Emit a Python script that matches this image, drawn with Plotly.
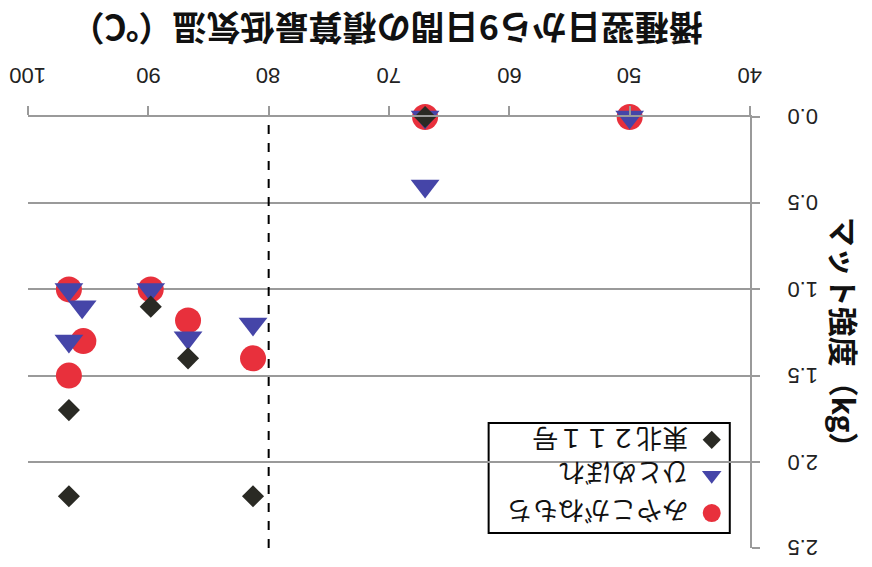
import plotly.graph_objects as go

# ---- data ----
x_miyako = [67.0, 50.0, 96.6, 95.4, 96.6, 89.8, 86.7, 81.3]
y_miyako = [0.0, 0.0, 1.0, 1.3, 1.5, 1.0, 1.18, 1.4]

x_hitome = [67.0, 67.0, 50.0, 96.6, 95.5, 96.6, 89.8, 86.7, 81.3]
y_hitome = [0.0, 0.4, 0.0, 1.0, 1.1, 1.3, 1.0, 1.28, 1.2]

x_tohoku = [67.0, 89.8, 86.7, 96.6, 96.6, 81.3]
y_tohoku = [0.0, 1.1, 1.4, 1.7, 2.2, 2.2]

series_names = ["みやこがねもち", "ひとめぼれ", "東北２１１号"]
x_ticks = [40, 50, 60, 70, 80, 90, 100]
x_ticktext = ["40", "50", "60", "70", "80", "90", "100"]
y_ticks = [0.0, 0.5, 1.0, 1.5, 2.0, 2.5]
y_ticktext = ["0.0", "0.5", "1.0", "1.5", "2.0", "2.5"]
threshold_x = 80
x_title = "播種翌日から9日間の積算最低気温（℃）"
y_title = "マット強度（kg）"

RED = "#e8303c"
BLUE = "#4545a8"
BLACK = "#2a2a24"
GRID = "#9a9a9a"
CJK = "Noto Sans CJK JP"
NUMFONT = dict(family="Liberation Sans", size=22, color="#222")

fig = go.Figure()
fig.add_trace(go.Scatter(x=x_miyako, y=y_miyako, mode="markers", cliponaxis=False,
                         marker=dict(symbol="circle", size=26, color=RED)))
fig.add_trace(go.Scatter(x=x_hitome, y=y_hitome, mode="markers", cliponaxis=False,
                         marker=dict(symbol="triangle-down", size=25, color=BLUE)))
fig.add_trace(go.Scatter(x=x_tohoku, y=y_tohoku, mode="markers", cliponaxis=False,
                         marker=dict(symbol="diamond", size=17, color=BLACK)))

# custom upside-down legend (markers on a hidden overlay axis 0..1)
leg_x = 0.947
leg_y = [0.081, 0.169, 0.251]
leg_sym = ["circle", "triangle-down", "diamond"]
leg_col = [RED, BLUE, BLACK]
leg_size = [18, 17, 14]
for i in range(3):
    fig.add_trace(go.Scatter(x=[leg_x], y=[leg_y[i]], xaxis="x2", yaxis="y2",
                             mode="markers", cliponaxis=False,
                             marker=dict(symbol=leg_sym[i], size=leg_size[i], color=leg_col[i])))
    fig.add_annotation(x=0.917, y=leg_y[i], xref="paper", yref="paper",
                       text=series_names[i], showarrow=False, textangle=180,
                       xanchor="right", yanchor="middle",
                       font=dict(family=CJK, size=26, color="#111"))

fig.add_shape(type="rect", xref="paper", yref="paper", x0=0.638, x1=0.972, y0=0.035, y1=0.290,
              line=dict(color="black", width=2), fillcolor="white", layer="between")

# dashed reference line
fig.add_shape(type="line", xref="x", yref="paper", x0=threshold_x, x1=threshold_x, y0=0, y1=1,
              line=dict(color="black", width=2, dash="dash"))

# upside-down tick labels placed on the axes' own scales
for v, t in zip(x_ticks, x_ticktext):
    fig.add_annotation(x=v, y=1.13, xref="x", yref="paper", text=t, showarrow=False,
                       textangle=180, font=NUMFONT)
for v, t in zip(y_ticks, y_ticktext):
    fig.add_annotation(x=1.097, y=v, xref="paper", yref="y", text=t, showarrow=False,
                       textangle=180, font=NUMFONT)

# axis titles (rotated)
fig.add_annotation(x=0.497, y=1.265, xref="paper", yref="paper", text="<b>" + x_title + "</b>",
                   showarrow=False, textangle=180, font=dict(family=CJK, size=34, color="#111"))
fig.add_annotation(x=1.165, y=0.483, xref="paper", yref="paper", text="<b>" + y_title + "</b>",
                   showarrow=False, textangle=90, font=dict(family=CJK, size=30, color="#111"))

fig.update_layout(
    width=872, height=567,
    margin=dict(l=28, r=122, t=117, b=19),
    plot_bgcolor="white", paper_bgcolor="white",
    showlegend=False,
    xaxis=dict(range=[100, 40], side="top", tickvals=x_ticks, showticklabels=False,
               showline=True, linecolor=GRID, linewidth=2,
               ticks="outside", ticklen=9, tickwidth=2, tickcolor=GRID,
               showgrid=False, zeroline=False),
    yaxis=dict(range=[2.5, 0], side="right", tickvals=y_ticks, showticklabels=False,
               showline=True, linecolor=GRID, linewidth=2,
               ticks="outside", ticklen=8, tickwidth=2, tickcolor=GRID,
               showgrid=True, gridcolor=GRID, gridwidth=2, zeroline=False),
    xaxis2=dict(overlaying="x", range=[0, 1], visible=False),
    yaxis2=dict(overlaying="y", range=[0, 1], visible=False),
)

fig.write_html("out.html")
